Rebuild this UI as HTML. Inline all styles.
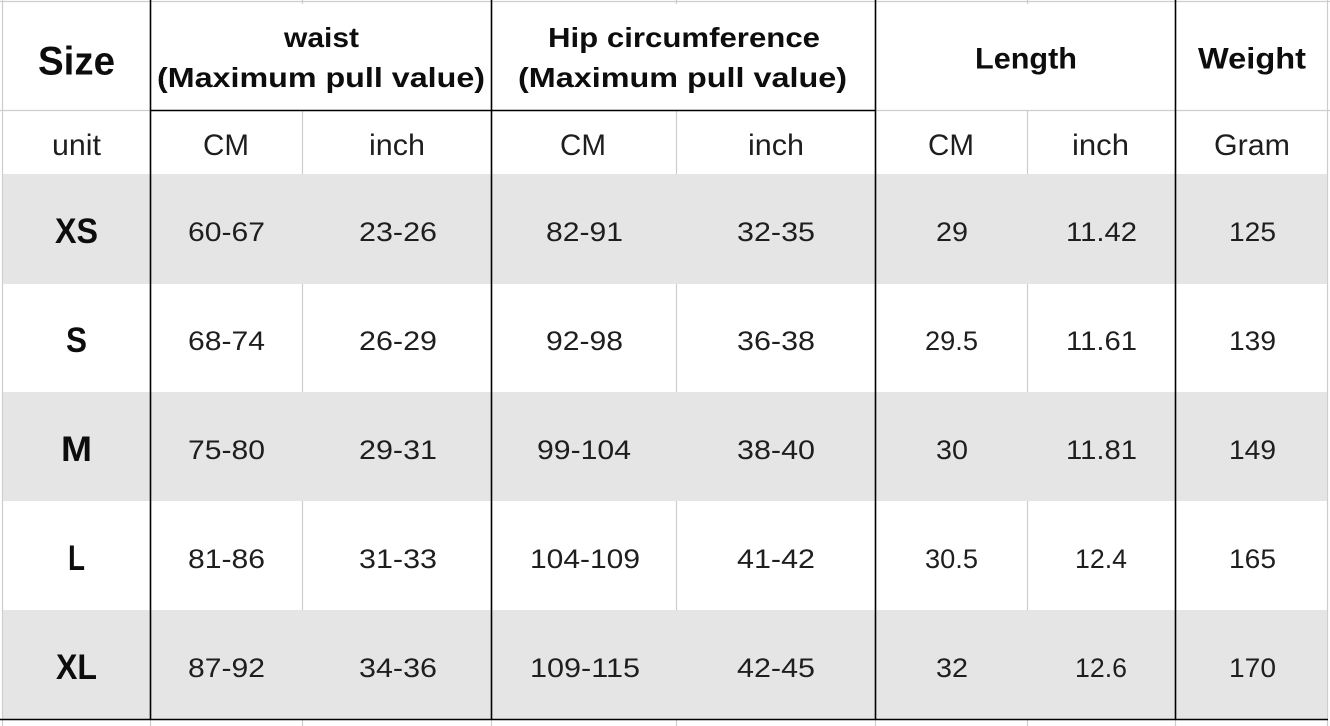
<!DOCTYPE html>
<html>
<head>
<meta charset="utf-8">
<style>
html,body{margin:0;padding:0;background:#fff;}
svg{display:block;}
text{font-family:"Liberation Sans","Noto Sans CJK SC",sans-serif;}
.h{font-weight:bold;fill:#0d0d0d;}
.u{fill:#1e1e1e;font-size:30px;}
.d{fill:#1e1e1e;font-size:27px;}
.s{font-weight:bold;fill:#0d0d0d;font-size:35px;}
</style>
</head>
<body>
<svg width="1330" height="726" viewBox="0 0 1330 726" xmlns="http://www.w3.org/2000/svg">
  <rect x="0" y="0" width="1330" height="726" fill="#fff"/>
  <!-- light grid lines -->
  <g stroke="#cdcdcd" stroke-width="1.2" fill="none">
    <line x1="0" y1="1.5" x2="1330" y2="1.5"/>
    <line x1="2.5" y1="0" x2="2.5" y2="726"/>
    <line x1="1327.5" y1="0" x2="1327.5" y2="726"/>
    <line x1="0" y1="110.5" x2="150" y2="110.5"/>
    <line x1="875" y1="110.5" x2="1330" y2="110.5"/>
    <line x1="302.5" y1="110" x2="302.5" y2="726"/>
    <line x1="676.5" y1="110" x2="676.5" y2="726"/>
    <line x1="1027.5" y1="110" x2="1027.5" y2="726"/>
    <line x1="302.5" y1="0" x2="302.5" y2="4"/>
    <line x1="676.5" y1="0" x2="676.5" y2="4"/>
    <line x1="1027.5" y1="0" x2="1027.5" y2="4"/>
    <line x1="150.5" y1="719" x2="150.5" y2="726"/>
    <line x1="491.5" y1="719" x2="491.5" y2="726"/>
    <line x1="875.5" y1="719" x2="875.5" y2="726"/>
    <line x1="1175.5" y1="719" x2="1175.5" y2="726"/>
  </g>
  <!-- shaded rows -->
  <g fill="#e5e5e5">
    <rect x="3" y="174" width="1324" height="110"/>
    <rect x="3" y="392" width="1324" height="109"/>
    <rect x="3" y="610" width="1324" height="109"/>
  </g>
  <!-- black lines -->
  <g stroke="#000" stroke-width="1.6" fill="none">
    <line x1="150.5" y1="0" x2="150.5" y2="720"/>
    <line x1="491.5" y1="0" x2="491.5" y2="720"/>
    <line x1="875.5" y1="0" x2="875.5" y2="720"/>
    <line x1="1175.5" y1="0" x2="1175.5" y2="720"/>
    <line x1="150" y1="110.5" x2="876" y2="110.5"/>
    <line x1="0" y1="719.5" x2="1328" y2="719.5"/>
  </g>

  <!-- header row 1 -->
  <text class="h" x="38" y="74.5" font-size="40" textLength="77" lengthAdjust="spacingAndGlyphs">Size</text>
  <text class="h" x="284" y="47" font-size="28" textLength="75" lengthAdjust="spacingAndGlyphs">waist</text>
  <text class="h" x="157" y="87" font-size="28" textLength="328" lengthAdjust="spacingAndGlyphs">(Maximum pull value)</text>
  <text class="h" x="548" y="47" font-size="28" textLength="272" lengthAdjust="spacingAndGlyphs">Hip circumference</text>
  <text class="h" x="518" y="87" font-size="28" textLength="329" lengthAdjust="spacingAndGlyphs">(Maximum pull value)</text>
  <text class="h" x="975" y="68.5" font-size="29.5" textLength="102" lengthAdjust="spacingAndGlyphs">Length</text>
  <text class="h" x="1198" y="68.5" font-size="29.5" textLength="108" lengthAdjust="spacingAndGlyphs">Weight</text>

  <!-- unit row -->
  <text class="u" x="52" y="155" textLength="49" lengthAdjust="spacingAndGlyphs">unit</text>
  <text class="u" x="203" y="155" textLength="46" lengthAdjust="spacingAndGlyphs">CM</text>
  <text class="u" x="369" y="155" textLength="56" lengthAdjust="spacingAndGlyphs">inch</text>
  <text class="u" x="560" y="155" textLength="46" lengthAdjust="spacingAndGlyphs">CM</text>
  <text class="u" x="748" y="155" textLength="56" lengthAdjust="spacingAndGlyphs">inch</text>
  <text class="u" x="928" y="155" textLength="46" lengthAdjust="spacingAndGlyphs">CM</text>
  <text class="u" x="1072" y="155" textLength="57" lengthAdjust="spacingAndGlyphs">inch</text>
  <text class="u" x="1214" y="155" textLength="76" lengthAdjust="spacingAndGlyphs">Gram</text>

  <!-- size labels -->
  <text class="s" x="55" y="243" textLength="43" lengthAdjust="spacingAndGlyphs">XS</text>
  <text class="s" x="66" y="352" textLength="21" lengthAdjust="spacingAndGlyphs">S</text>
  <text class="s" x="61" y="461" textLength="31" lengthAdjust="spacingAndGlyphs">M</text>
  <text class="s" x="68" y="570" textLength="17" lengthAdjust="spacingAndGlyphs">L</text>
  <text class="s" x="56" y="679" textLength="41" lengthAdjust="spacingAndGlyphs">XL</text>

  <!-- data rows -->
  <g class="d">
    <!-- XS -->
    <text class="d" x="188" y="241" textLength="77" lengthAdjust="spacingAndGlyphs">60-67</text>
    <text class="d" x="359" y="241" textLength="78" lengthAdjust="spacingAndGlyphs">23-26</text>
    <text class="d" x="546" y="241" textLength="77" lengthAdjust="spacingAndGlyphs">82-91</text>
    <text class="d" x="737" y="241" textLength="78" lengthAdjust="spacingAndGlyphs">32-35</text>
    <text class="d" x="936" y="241" textLength="32" lengthAdjust="spacingAndGlyphs">29</text>
    <text class="d" x="1066" y="241" textLength="71" lengthAdjust="spacingAndGlyphs">11.42</text>
    <text class="d" x="1229" y="241" textLength="47" lengthAdjust="spacingAndGlyphs">125</text>
    <!-- S -->
    <text class="d" x="188" y="350" textLength="77" lengthAdjust="spacingAndGlyphs">68-74</text>
    <text class="d" x="359" y="350" textLength="78" lengthAdjust="spacingAndGlyphs">26-29</text>
    <text class="d" x="546" y="350" textLength="77" lengthAdjust="spacingAndGlyphs">92-98</text>
    <text class="d" x="737" y="350" textLength="78" lengthAdjust="spacingAndGlyphs">36-38</text>
    <text class="d" x="925" y="350" textLength="53" lengthAdjust="spacingAndGlyphs">29.5</text>
    <text class="d" x="1066" y="350" textLength="71" lengthAdjust="spacingAndGlyphs">11.61</text>
    <text class="d" x="1229" y="350" textLength="47" lengthAdjust="spacingAndGlyphs">139</text>
    <!-- M -->
    <text class="d" x="188" y="459" textLength="77" lengthAdjust="spacingAndGlyphs">75-80</text>
    <text class="d" x="359" y="459" textLength="78" lengthAdjust="spacingAndGlyphs">29-31</text>
    <text class="d" x="537" y="459" textLength="94" lengthAdjust="spacingAndGlyphs">99-104</text>
    <text class="d" x="737" y="459" textLength="78" lengthAdjust="spacingAndGlyphs">38-40</text>
    <text class="d" x="936" y="459" textLength="32" lengthAdjust="spacingAndGlyphs">30</text>
    <text class="d" x="1066" y="459" textLength="71" lengthAdjust="spacingAndGlyphs">11.81</text>
    <text class="d" x="1229" y="459" textLength="47" lengthAdjust="spacingAndGlyphs">149</text>
    <!-- L -->
    <text class="d" x="188" y="568" textLength="77" lengthAdjust="spacingAndGlyphs">81-86</text>
    <text class="d" x="359" y="568" textLength="78" lengthAdjust="spacingAndGlyphs">31-33</text>
    <text class="d" x="530" y="568" textLength="110" lengthAdjust="spacingAndGlyphs">104-109</text>
    <text class="d" x="737" y="568" textLength="78" lengthAdjust="spacingAndGlyphs">41-42</text>
    <text class="d" x="925" y="568" textLength="53" lengthAdjust="spacingAndGlyphs">30.5</text>
    <text class="d" x="1075" y="568" textLength="52" lengthAdjust="spacingAndGlyphs">12.4</text>
    <text class="d" x="1229" y="568" textLength="47" lengthAdjust="spacingAndGlyphs">165</text>
    <!-- XL -->
    <text class="d" x="188" y="677" textLength="77" lengthAdjust="spacingAndGlyphs">87-92</text>
    <text class="d" x="359" y="677" textLength="78" lengthAdjust="spacingAndGlyphs">34-36</text>
    <text class="d" x="530" y="677" textLength="110" lengthAdjust="spacingAndGlyphs">109-115</text>
    <text class="d" x="737" y="677" textLength="78" lengthAdjust="spacingAndGlyphs">42-45</text>
    <text class="d" x="936" y="677" textLength="32" lengthAdjust="spacingAndGlyphs">32</text>
    <text class="d" x="1075" y="677" textLength="52" lengthAdjust="spacingAndGlyphs">12.6</text>
    <text class="d" x="1229" y="677" textLength="47" lengthAdjust="spacingAndGlyphs">170</text>
  </g>
</svg>
</body>
</html>
